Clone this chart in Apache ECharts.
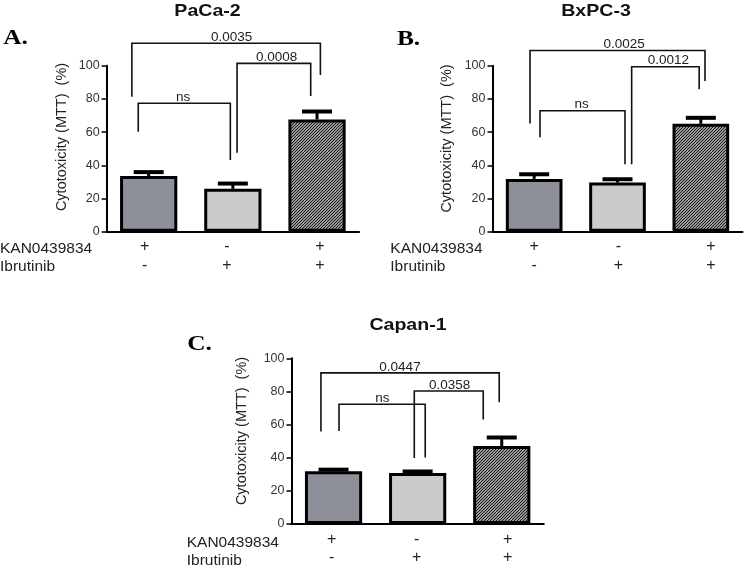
<!DOCTYPE html>
<html>
<head>
<meta charset="utf-8">
<script src="https://cdn.jsdelivr.net/npm/echarts@6/dist/echarts.min.js"></script>
<style>html,body{margin:0;padding:0;background:#fff}#c{width:744px;height:567px}</style>
</head>
<body>
<div id="c"></div>
<script>
// ---------- data ----------
const panelTitles = ['PaCa-2', 'BxPC-3', 'Capan-1'];
const panelLetters = ['A.', 'B.', 'C.'];
const rowNames = ['KAN0439834', 'Ibrutinib'];
const kanRow = ['+', '-', '+'];
const ibrRow = ['-', '+', '+'];
const categories = ['KAN+/Ibr-', 'KAN-/Ibr+', 'KAN+/Ibr+'];
const yAxisName = 'Cytotoxicity (MTT)  (%)';
const yMin = 0, yMax = 100, yStep = 20;

const paca2Mean = [33.5, 25.8, 67.6];
const paca2Err = [2.4, 3.2, 4.8];
const bxpc3Mean = [31.8, 29.6, 65.0];
const bxpc3Err = [2.8, 2.0, 3.6];
const capan1Mean = [31.8, 30.8, 47.0];
const capan1Err = [1.0, 0.9, 5.2];

// brackets: [xStart, xEnd, yBar, yLeftEnd, yRightEnd, labelX]  (x in category-index units)
const paca2Brackets = [[-0.124, 0.97, 77.4, 60.2, 43.2, 0.41], [1.05, 1.925, 101.4, 47.6, 81.7, 1.52], [-0.20, 2.04, 113.5, 81.3, 94.4, 0.986]];
const paca2BracketLabels = ['ns', '0.0008', '0.0035'];
const bxpc3Brackets = [[0.07, 1.09, 72.9, 56.9, 40.6, 0.57], [1.17, 1.98, 99.4, 40.6, 85.8, 1.61], [-0.05, 2.05, 109.2, 65.2, 90.8, 1.08]];
const bxpc3BracketLabels = ['ns', '0.0012', '0.0025'];
const capan1Brackets = [[0.065, 1.09, 72.3, 56.2, 40.2, 0.58], [0.96, 1.78, 80.3, 39.9, 63.0, 1.38], [-0.15, 1.97, 91.2, 55.8, 73.5, 0.79]];
const capan1BracketLabels = ['ns', '0.0358', '0.0447'];

// ---------- styling ----------
const SANS = '"Liberation Sans", Arial, sans-serif';
const SERIF = '"Liberation Serif", "Times New Roman", serif';

function hatch() {
  const n = 3;
  const c = document.createElement('canvas');
  c.width = n; c.height = n;
  const g = c.getContext('2d');
  g.fillStyle = '#cfcfcf';
  g.fillRect(0, 0, n, n);
  g.strokeStyle = '#111';
  g.lineWidth = 1.1;
  g.beginPath();
  g.moveTo(-1, n + 1); g.lineTo(n + 1, -1);
  g.moveTo(-1, 1); g.lineTo(1, -1);
  g.moveTo(n - 1, n + 1); g.lineTo(n + 1, n - 1);
  g.stroke();
  return c;
}
const barFills = ['#8d9098', '#cbcbcd', { image: hatch(), repeat: 'repeat' }];

const panels = [
  { mean: paca2Mean, err: paca2Err, br: paca2Brackets, brl: paca2BracketLabels, shift: [-4, -6, 3],
    grid: { left: 106.6, top: 65.7, width: 252.5, height: 166 } },
  { mean: bxpc3Mean, err: bxpc3Err, br: bxpc3Brackets, brl: bxpc3BracketLabels, shift: [0, 1, 10],
    grid: { left: 492.5, top: 65.7, width: 250, height: 166 } },
  { mean: capan1Mean, err: capan1Err, br: capan1Brackets, brl: capan1BracketLabels, shift: [-2, -1, 6],
    grid: { left: 291.5, top: 358.3, width: 252.3, height: 166 } }
];

const grids = [], xAxes = [], yAxes = [], series = [];
panels.forEach((p, k) => {
  grids.push(Object.assign({ containLabel: false }, p.grid));
  const rich = {};
  p.shift.forEach((s, i) => {
    rich['s' + i] = {
      fontFamily: SANS, fontSize: 16, lineHeight: 18.5, color: '#222',
      padding: s >= 0 ? [0, 0, 0, 2 * s] : [0, -2 * s, 0, 0]
    };
  });
  xAxes.push({
    type: 'category', gridIndex: k, data: categories,
    axisLine: { onZero: false, lineStyle: { color: '#000', width: 2 } },
    axisTick: { show: false },
    axisLabel: {
      margin: 6, fontFamily: SANS, fontSize: 16, lineHeight: 18.5, color: '#222', rich: rich,
      formatter: (v, i) => '{s' + i + '|' + kanRow[i] + '}\n{s' + i + '|' + ibrRow[i] + '}'
    }
  });
  yAxes.push({
    type: 'value', gridIndex: k, min: yMin, max: yMax, interval: yStep,
    axisLine: { show: true, onZero: false, lineStyle: { color: '#000', width: 2 } },
    axisTick: { show: true, length: 5, lineStyle: { color: '#000', width: 1.5 } },
    axisLabel: { margin: 7, fontFamily: SANS, fontSize: 12.5, color: '#333' },
    splitLine: { show: false }
  });
});
// hidden value x-axes for brackets and error bars (same mapping as the category bands)
panels.forEach((p, k) => {
  xAxes.push({ type: 'value', gridIndex: k, min: -0.5, max: 2.5, show: false, splitLine: { show: false } });
});

panels.forEach((p, k) => {
  series.push({
    type: 'bar', xAxisIndex: k, yAxisIndex: k, barWidth: '68%',
    data: p.mean.map((v, i) => ({ value: v, itemStyle: { color: barFills[i] } })),
    itemStyle: { borderColor: '#000', borderWidth: 3 },
    emphasis: { disabled: true }, animation: false, z: 2
  });
  series.push({
    type: 'custom', xAxisIndex: 3 + k, yAxisIndex: k, z: 3, animation: false,
    data: p.mean.map((v, i) => [i, v, v + p.err[i]]),
    encode: { x: 0, y: [1, 2] },
    renderItem: (params, api) => {
      const i = api.value(0), lo = api.value(1), hi = api.value(2);
      const base = api.coord([i, lo]);
      const top = api.coord([i, hi]);
      return {
        type: 'group', children: [
          { type: 'line', shape: { x1: base[0], y1: base[1], x2: top[0], y2: top[1] }, style: { stroke: '#000', lineWidth: 3 } },
          { type: 'line', shape: { x1: top[0] - 15, y1: top[1], x2: top[0] + 15, y2: top[1] }, style: { stroke: '#000', lineWidth: 4 } }
        ]
      };
    }
  });
  series.push({
    type: 'custom', xAxisIndex: 3 + k, yAxisIndex: k, z: 4, animation: false, clip: false,
    data: p.br,
    encode: { x: [0, 1], y: [2] },
    renderItem: (params, api) => {
      const j = params.dataIndex;
      const x1 = api.value(0), x2 = api.value(1), yb = api.value(2), yl = api.value(3), yr = api.value(4), lx = api.value(5);
      const pts = [api.coord([x1, yl]), api.coord([x1, yb]), api.coord([x2, yb]), api.coord([x2, yr])];
      const lp = api.coord([lx, yb]);
      return {
        type: 'group', children: [
          { type: 'polyline', shape: { points: pts }, style: { stroke: '#111', lineWidth: 1.6, fill: null } },
          { type: 'text', x: lp[0], y: lp[1] + 1, style: { text: p.brl[j], fontFamily: SANS, fontSize: 13.5, fill: '#222', align: 'center', verticalAlign: 'bottom' } }
        ]
      };
    }
  });
});

// ---------- text decorations ----------
const graphic = [];
const titlePos = [[207.5, 11], [596, 11], [408, 325]];
const letterPos = [[15.5, 38], [408.5, 39], [199.5, 344]];
const yNamePos = [[61.7, 137], [447, 138.5], [241.7, 431]];
const rowPos = [[0, 248.3, 266.7], [390.3, 248.3, 266.7], [186.7, 542.3, 560.7]];
for (let k = 0; k < 3; k++) {
  graphic.push({ type: 'text', x: titlePos[k][0], y: titlePos[k][1], scaleX: 1.15,
    style: { text: panelTitles[k], fontFamily: SANS, fontWeight: 'bold', fontSize: 17, fill: '#111', align: 'center', verticalAlign: 'middle' } });
  graphic.push({ type: 'text', x: letterPos[k][0], y: letterPos[k][1], scaleX: 1.15,
    style: { text: panelLetters[k], fontFamily: SERIF, fontWeight: 'bold', fontSize: 22, fill: '#000', align: 'center', verticalAlign: 'middle' } });
  graphic.push({ type: 'text', x: yNamePos[k][0], y: yNamePos[k][1], rotation: Math.PI / 2,
    style: { text: yAxisName, fontFamily: SANS, fontSize: 14.5, fill: '#222', align: 'center', verticalAlign: 'middle' } });
  graphic.push({ type: 'text', x: rowPos[k][0], y: rowPos[k][1],
    style: { text: rowNames[0], fontFamily: SANS, fontSize: 15.5, fill: '#222', align: 'left', verticalAlign: 'middle' } });
  graphic.push({ type: 'text', x: rowPos[k][0], y: rowPos[k][2],
    style: { text: rowNames[1], fontFamily: SANS, fontSize: 15.5, fill: '#222', align: 'left', verticalAlign: 'middle' } });
}

const chart = echarts.init(document.getElementById('c'), null, { renderer: 'canvas' });
chart.setOption({
  animation: false,
  backgroundColor: '#fff',
  grid: grids, xAxis: xAxes, yAxis: yAxes, series: series, graphic: graphic
});
</script>
</body>
</html>
